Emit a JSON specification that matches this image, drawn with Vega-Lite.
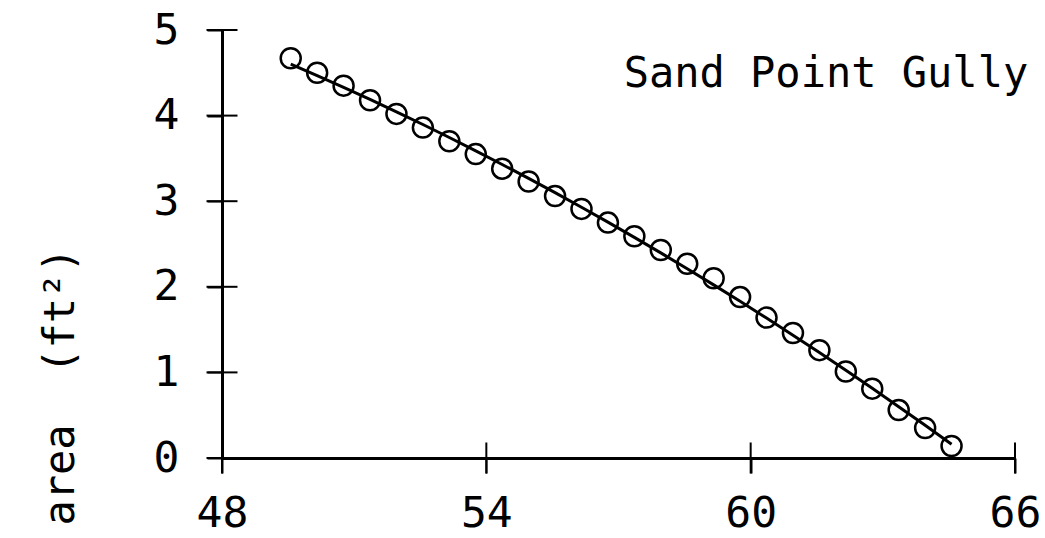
{
  "$schema": "https://vega.github.io/schema/vega-lite/v6.json",
  "width": 793,
  "height": 428,
  "autosize": "none",
  "padding": {"left": 222, "top": 30, "right": 30, "bottom": 80},
  "background": "white",
  "datasets": {
    "area": [
      {"x": 49.56, "y": 4.67},
      {"x": 50.16, "y": 4.50},
      {"x": 50.76, "y": 4.35},
      {"x": 51.36, "y": 4.18},
      {"x": 51.96, "y": 4.02},
      {"x": 52.56, "y": 3.86},
      {"x": 53.16, "y": 3.70},
      {"x": 53.76, "y": 3.55},
      {"x": 54.36, "y": 3.38},
      {"x": 54.96, "y": 3.23},
      {"x": 55.56, "y": 3.06},
      {"x": 56.16, "y": 2.91},
      {"x": 56.76, "y": 2.75},
      {"x": 57.36, "y": 2.59},
      {"x": 57.96, "y": 2.43},
      {"x": 58.56, "y": 2.27},
      {"x": 59.16, "y": 2.10},
      {"x": 59.76, "y": 1.88},
      {"x": 60.36, "y": 1.64},
      {"x": 60.96, "y": 1.46},
      {"x": 61.56, "y": 1.26},
      {"x": 62.16, "y": 1.01},
      {"x": 62.76, "y": 0.81},
      {"x": 63.36, "y": 0.56},
      {"x": 63.96, "y": 0.35},
      {"x": 64.56, "y": 0.14}
    ],
    "yticks": [{"v": 0}, {"v": 1}, {"v": 2}, {"v": 3}, {"v": 4}, {"v": 5}],
    "xticks": [{"v": 48}, {"v": 54}, {"v": 60}, {"v": 66}],
    "site": [{"name": "Sand Point Gully"}]
  },
  "config": {
    "view": {"stroke": null},
    "axis": {
      "grid": false,
      "domainColor": "black",
      "domainWidth": 3,
      "tickColor": "black",
      "tickWidth": 2,
      "tickSize": 15,
      "labelFont": "DejaVu Sans Mono",
      "labelFontSize": 43,
      "labelColor": "black",
      "titleFont": "DejaVu Sans Mono",
      "titleFontSize": 42,
      "titleFontWeight": "normal",
      "titleColor": "black"
    }
  },
  "layer": [
    {
      "data": {"name": "yticks"},
      "mark": {"type": "tick", "orient": "horizontal", "color": "black", "thickness": 2, "size": 31, "opacity": 1},
      "encoding": {
        "y": {"field": "v", "type": "quantitative"},
        "x": {"datum": 48}
      }
    },
    {
      "data": {"name": "xticks"},
      "mark": {"type": "tick", "orient": "vertical", "color": "black", "thickness": 2, "size": 31, "opacity": 1},
      "encoding": {
        "x": {"field": "v", "type": "quantitative"},
        "y": {"datum": 0}
      }
    },
    {
      "data": {"name": "area"},
      "transform": [
        {"regression": "y", "on": "x", "method": "poly", "order": 2}
      ],
      "mark": {"type": "line", "color": "black", "strokeWidth": 3},
      "encoding": {
        "x": {"field": "x", "type": "quantitative"},
        "y": {"field": "y", "type": "quantitative"}
      }
    },
    {
      "data": {"name": "site"},
      "mark": {
        "type": "text",
        "align": "right",
        "baseline": "alphabetic",
        "font": "DejaVu Sans Mono",
        "fontSize": 42,
        "color": "black"
      },
      "encoding": {
        "text": {"field": "name"},
        "x": {"datum": 66.3},
        "y": {"datum": 4.33}
      }
    },
    {
      "data": {"name": "area"},
      "mark": {
        "type": "point",
        "shape": "circle",
        "filled": false,
        "color": "black",
        "strokeWidth": 2.5,
        "size": 400,
        "opacity": 1
      },
      "encoding": {
        "x": {
          "field": "x",
          "type": "quantitative",
          "scale": {"domain": [48, 66], "nice": false, "zero": false},
          "axis": {
            "values": [48, 54, 60, 66],
            "format": "d",
            "title": null,
            "labelPadding": 19,
            "labelFlush": false
          }
        },
        "y": {
          "field": "y",
          "type": "quantitative",
          "scale": {"domain": [0, 5], "nice": false},
          "axis": {
            "values": [0, 1, 2, 3, 4, 5],
            "format": "d",
            "title": "area\u00a0\u00a0(ft²)",
            "titleAngle": -90,
            "titleAlign": "center",
            "titleBaseline": "alphabetic",
            "titleX": -149,
            "titleY": 356,
            "labelPadding": 28
          }
        }
      }
    }
  ]
}
